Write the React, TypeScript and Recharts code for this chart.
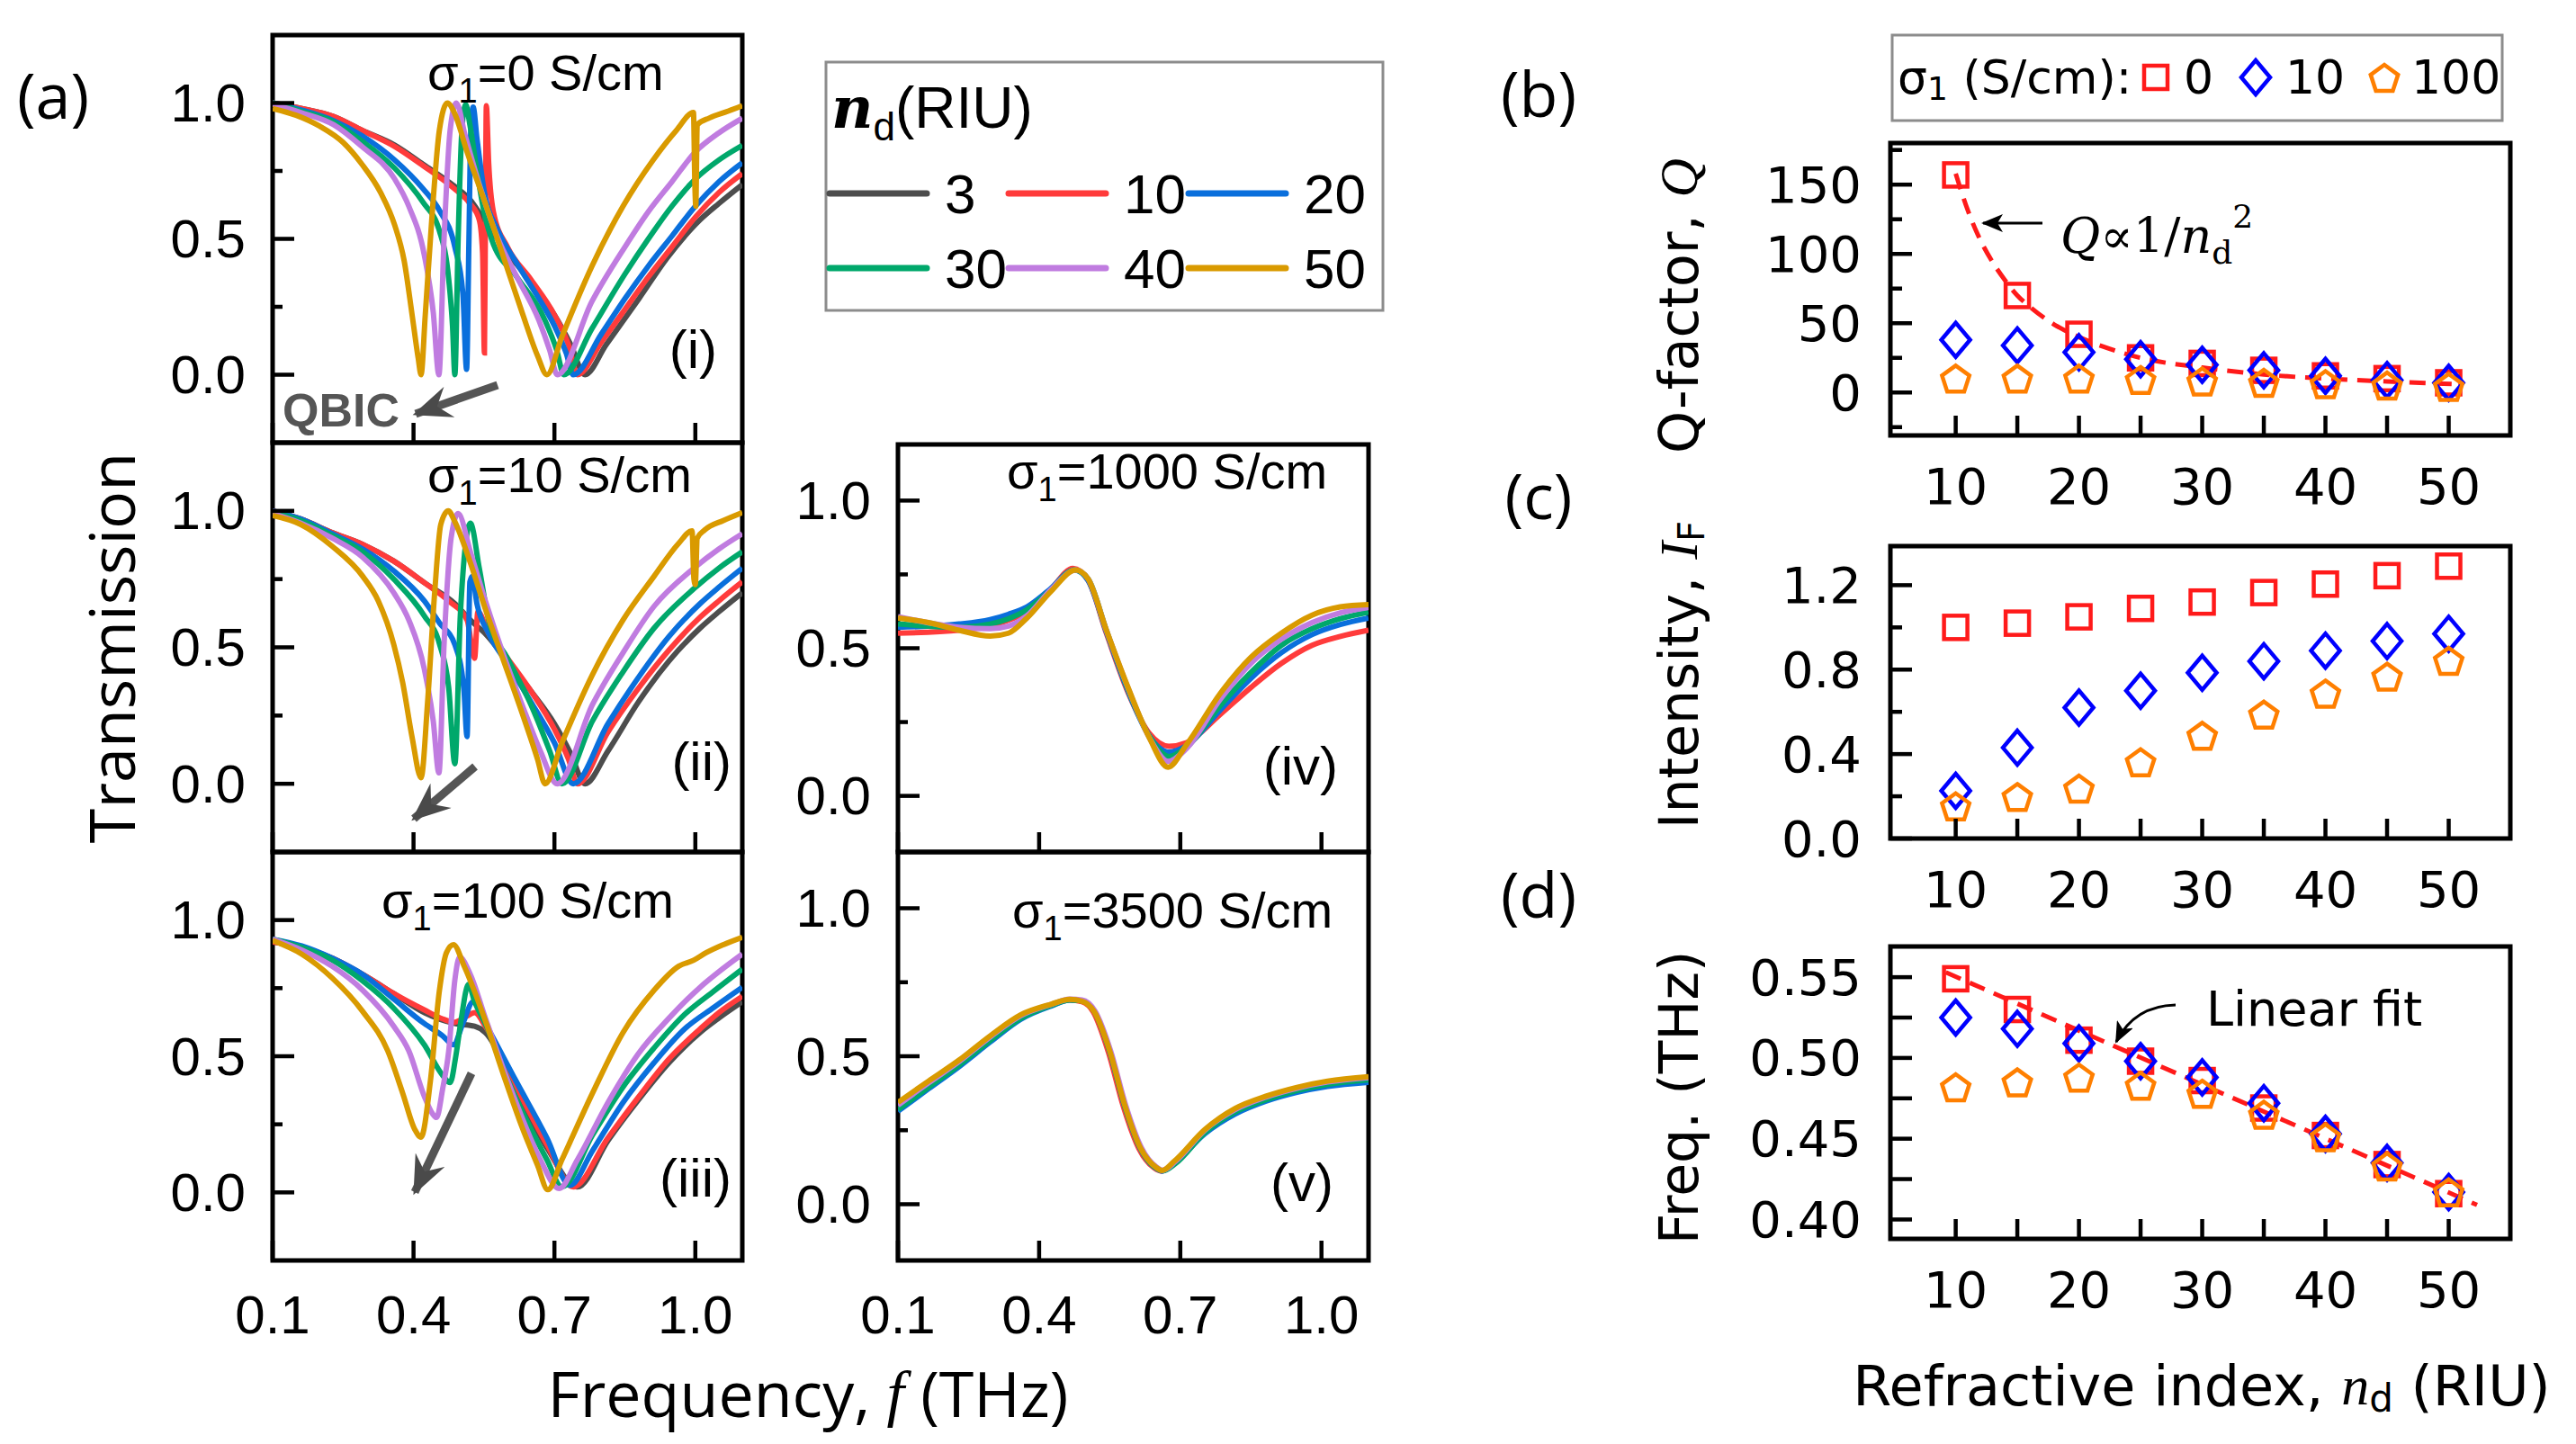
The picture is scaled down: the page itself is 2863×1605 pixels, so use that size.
import React from "react";
import { LineChart, Line, XAxis, YAxis, ReferenceArea, ComposedChart, Scatter } from "recharts";

type P = [number, number];

// ---------- (a) transmission curves, [f (THz), T] ----------
// (i) sigma1 = 0 S/cm
const i3: P[] = [[0.1, 1.0], [0.16, 0.98], [0.23, 0.95], [0.29, 0.9], [0.36, 0.845], [0.42, 0.775], [0.49, 0.69], [0.52, 0.645], [0.55, 0.57], [0.6, 0.45], [0.65, 0.34], [0.7, 0.22], [0.735, 0.11], [0.765, 0.0], [0.81, 0.11], [0.88, 0.28], [0.94, 0.43], [1.01, 0.57], [1.05, 0.63], [1.1, 0.7]];
const i10: P[] = [[0.1, 1.0], [0.16, 0.98], [0.23, 0.95], [0.29, 0.9], [0.36, 0.84], [0.42, 0.77], [0.49, 0.68], [0.52, 0.63], [0.54, 0.57], [0.547, 0.45], [0.551, 0.08], [0.553, 0.55], [0.555, 0.99], [0.56, 0.78], [0.57, 0.6], [0.6, 0.47], [0.65, 0.35], [0.7, 0.22], [0.73, 0.11], [0.749, 0.0], [0.8, 0.12], [0.85, 0.24], [0.9, 0.36], [0.95, 0.47], [1.0, 0.58], [1.05, 0.67], [1.1, 0.74]];
const i20: P[] = [[0.1, 1.0], [0.16, 0.975], [0.23, 0.935], [0.29, 0.88], [0.36, 0.79], [0.42, 0.685], [0.455, 0.605], [0.488, 0.47], [0.505, 0.3], [0.513, 0.02], [0.518, 0.5], [0.522, 0.9], [0.527, 0.985], [0.535, 0.87], [0.55, 0.68], [0.58, 0.53], [0.62, 0.41], [0.66, 0.3], [0.7, 0.18], [0.725, 0.08], [0.74, 0.0], [0.8, 0.15], [0.85, 0.28], [0.9, 0.4], [0.95, 0.51], [1.0, 0.62], [1.05, 0.71], [1.1, 0.78]];
const i30: P[] = [[0.1, 1.0], [0.16, 0.97], [0.23, 0.93], [0.29, 0.86], [0.36, 0.76], [0.42, 0.635], [0.455, 0.53], [0.475, 0.35], [0.483, 0.18], [0.488, 0.0], [0.495, 0.5], [0.503, 0.9], [0.511, 0.995], [0.52, 0.92], [0.535, 0.75], [0.55, 0.6], [0.566, 0.5], [0.62, 0.36], [0.68, 0.2], [0.705, 0.09], [0.72, 0.0], [0.78, 0.17], [0.85, 0.37], [0.9, 0.5], [0.95, 0.62], [1.0, 0.72], [1.05, 0.79], [1.1, 0.844]];
const i40: P[] = [[0.1, 0.995], [0.16, 0.965], [0.23, 0.92], [0.29, 0.84], [0.36, 0.72], [0.39, 0.62], [0.423, 0.44], [0.442, 0.23], [0.454, 0.0], [0.465, 0.5], [0.478, 0.9], [0.491, 1.0], [0.51, 0.88], [0.54, 0.7], [0.58, 0.5], [0.62, 0.36], [0.667, 0.2], [0.69, 0.09], [0.706, 0.0], [0.78, 0.27], [0.85, 0.47], [0.9, 0.6], [0.95, 0.71], [1.0, 0.82], [1.05, 0.89], [1.1, 0.944]];
const i50: P[] = [[0.1, 0.98], [0.15, 0.955], [0.2, 0.915], [0.25, 0.855], [0.29, 0.775], [0.33, 0.67], [0.36, 0.55], [0.38, 0.42], [0.397, 0.22], [0.41, 0.06], [0.416, 0.0], [0.425, 0.22], [0.44, 0.6], [0.455, 0.9], [0.472, 1.0], [0.488, 0.96], [0.514, 0.82], [0.553, 0.63], [0.592, 0.43], [0.631, 0.23], [0.664, 0.07], [0.684, 0.0], [0.716, 0.14], [0.78, 0.4], [0.846, 0.62], [0.91, 0.79], [0.96, 0.9], [0.996, 0.965], [0.999, 0.7], [1.001, 0.62], [1.004, 0.92], [1.03, 0.945], [1.07, 0.97], [1.1, 0.99]];

// (ii) sigma1 = 10 S/cm
const ii3: P[] = [[0.1, 1.0], [0.16, 0.97], [0.227, 0.92], [0.292, 0.877], [0.358, 0.816], [0.423, 0.737], [0.488, 0.66], [0.521, 0.6], [0.553, 0.55], [0.6, 0.45], [0.65, 0.34], [0.7, 0.22], [0.735, 0.11], [0.765, 0.0], [0.814, 0.12], [0.879, 0.3], [0.944, 0.45], [1.01, 0.57], [1.05, 0.63], [1.1, 0.7]];
const ii10: P[] = [[0.1, 1.0], [0.16, 0.97], [0.227, 0.92], [0.292, 0.877], [0.358, 0.816], [0.423, 0.737], [0.475, 0.67], [0.514, 0.6], [0.53, 0.46], [0.537, 0.63], [0.56, 0.55], [0.6, 0.46], [0.65, 0.34], [0.7, 0.2], [0.73, 0.09], [0.749, 0.0], [0.814, 0.19], [0.879, 0.35], [0.944, 0.49], [1.01, 0.61], [1.05, 0.67], [1.1, 0.74]];
const ii20: P[] = [[0.1, 1.0], [0.16, 0.97], [0.227, 0.916], [0.292, 0.86], [0.358, 0.78], [0.423, 0.67], [0.455, 0.59], [0.488, 0.51], [0.507, 0.35], [0.514, 0.173], [0.52, 0.74], [0.525, 0.76], [0.535, 0.66], [0.56, 0.55], [0.6, 0.44], [0.65, 0.3], [0.7, 0.15], [0.74, 0.0], [0.814, 0.22], [0.879, 0.39], [0.944, 0.54], [1.01, 0.66], [1.05, 0.72], [1.1, 0.79]];
const ii30: P[] = [[0.1, 0.995], [0.16, 0.965], [0.227, 0.91], [0.292, 0.85], [0.358, 0.75], [0.423, 0.615], [0.455, 0.514], [0.475, 0.35], [0.488, 0.073], [0.5, 0.63], [0.521, 0.955], [0.54, 0.79], [0.56, 0.6], [0.6, 0.46], [0.65, 0.29], [0.69, 0.12], [0.716, 0.0], [0.781, 0.23], [0.846, 0.41], [0.912, 0.57], [0.997, 0.715], [1.05, 0.79], [1.1, 0.85]];
const ii40: P[] = [[0.1, 0.99], [0.16, 0.955], [0.227, 0.9], [0.292, 0.83], [0.358, 0.7], [0.39, 0.6], [0.423, 0.42], [0.442, 0.23], [0.454, 0.04], [0.465, 0.51], [0.48, 0.9], [0.495, 0.99], [0.521, 0.85], [0.553, 0.67], [0.592, 0.47], [0.631, 0.29], [0.67, 0.12], [0.706, 0.0], [0.781, 0.29], [0.846, 0.48], [0.912, 0.65], [0.997, 0.79], [1.05, 0.86], [1.1, 0.916]];
const ii50: P[] = [[0.1, 0.983], [0.16, 0.95], [0.227, 0.87], [0.292, 0.76], [0.325, 0.67], [0.358, 0.51], [0.377, 0.37], [0.397, 0.17], [0.416, 0.022], [0.43, 0.3], [0.445, 0.7], [0.458, 0.95], [0.474, 1.0], [0.488, 0.96], [0.521, 0.81], [0.553, 0.64], [0.592, 0.45], [0.631, 0.26], [0.664, 0.09], [0.68, 0.0], [0.716, 0.15], [0.781, 0.4], [0.846, 0.6], [0.912, 0.76], [0.964, 0.88], [0.993, 0.927], [0.997, 0.75], [1.0, 0.73], [1.004, 0.9], [1.02, 0.93], [1.06, 0.965], [1.1, 0.994]];

// (iii) sigma1 = 100 S/cm
const iii3: P[] = [[0.1, 0.92], [0.162, 0.9], [0.227, 0.86], [0.292, 0.8], [0.358, 0.73], [0.423, 0.66], [0.488, 0.62], [0.53, 0.61], [0.553, 0.587], [0.618, 0.38], [0.684, 0.164], [0.749, 0.02], [0.814, 0.19], [0.879, 0.34], [0.944, 0.476], [1.01, 0.587], [1.05, 0.64], [1.1, 0.7]];
const iii10: P[] = [[0.1, 0.92], [0.162, 0.9], [0.227, 0.86], [0.292, 0.8], [0.358, 0.73], [0.423, 0.67], [0.462, 0.637], [0.488, 0.625], [0.514, 0.648], [0.53, 0.66], [0.553, 0.61], [0.618, 0.39], [0.684, 0.175], [0.74, 0.02], [0.814, 0.2], [0.879, 0.35], [0.944, 0.49], [1.01, 0.6], [1.05, 0.66], [1.1, 0.72]];
const iii20: P[] = [[0.1, 0.93], [0.162, 0.905], [0.227, 0.86], [0.292, 0.8], [0.358, 0.71], [0.423, 0.62], [0.462, 0.575], [0.485, 0.542], [0.505, 0.62], [0.527, 0.7], [0.553, 0.62], [0.618, 0.41], [0.684, 0.2], [0.733, 0.026], [0.781, 0.153], [0.846, 0.33], [0.912, 0.476], [0.977, 0.6], [1.04, 0.68], [1.1, 0.753]];
const iii30: P[] = [[0.1, 0.93], [0.162, 0.9], [0.227, 0.853], [0.292, 0.776], [0.358, 0.676], [0.423, 0.542], [0.462, 0.43], [0.478, 0.403], [0.49, 0.5], [0.501, 0.63], [0.517, 0.764], [0.53, 0.7], [0.553, 0.62], [0.592, 0.45], [0.631, 0.3], [0.684, 0.12], [0.716, 0.02], [0.781, 0.21], [0.846, 0.387], [0.912, 0.53], [0.977, 0.653], [1.04, 0.74], [1.1, 0.82]];
const iii40: P[] = [[0.1, 0.93], [0.162, 0.89], [0.227, 0.83], [0.292, 0.742], [0.358, 0.61], [0.39, 0.52], [0.423, 0.353], [0.44, 0.29], [0.449, 0.275], [0.462, 0.38], [0.475, 0.52], [0.488, 0.78], [0.498, 0.864], [0.521, 0.8], [0.553, 0.64], [0.592, 0.45], [0.631, 0.275], [0.67, 0.12], [0.71, 0.014], [0.749, 0.12], [0.814, 0.33], [0.879, 0.51], [0.944, 0.64], [1.01, 0.753], [1.05, 0.81], [1.1, 0.875]];
const iii50: P[] = [[0.1, 0.925], [0.162, 0.875], [0.227, 0.787], [0.292, 0.664], [0.345, 0.52], [0.377, 0.364], [0.403, 0.23], [0.416, 0.203], [0.436, 0.41], [0.455, 0.74], [0.47, 0.88], [0.485, 0.91], [0.508, 0.83], [0.553, 0.63], [0.592, 0.43], [0.631, 0.24], [0.664, 0.1], [0.686, 0.01], [0.716, 0.12], [0.781, 0.364], [0.846, 0.587], [0.912, 0.742], [0.964, 0.83], [0.997, 0.853], [1.023, 0.88], [1.06, 0.91], [1.1, 0.937]];

// (iv) sigma1 = 1000 S/cm
const iv10: P[] = [[0.1, 0.551], [0.23, 0.561], [0.296, 0.577], [0.335, 0.595], [0.374, 0.625], [0.42, 0.69], [0.472, 0.77], [0.504, 0.73], [0.543, 0.55], [0.589, 0.35], [0.635, 0.21], [0.676, 0.168], [0.713, 0.18], [0.785, 0.276], [0.85, 0.367], [0.915, 0.449], [0.98, 0.51], [1.04, 0.54], [1.1, 0.561]];
const iv20: P[] = [[0.1, 0.571], [0.23, 0.582], [0.296, 0.597], [0.335, 0.615], [0.374, 0.64], [0.42, 0.695], [0.475, 0.765], [0.504, 0.73], [0.543, 0.555], [0.589, 0.355], [0.635, 0.2], [0.676, 0.148], [0.713, 0.17], [0.785, 0.291], [0.85, 0.398], [0.915, 0.485], [0.98, 0.546], [1.04, 0.58], [1.1, 0.602]];
const iv30: P[] = [[0.1, 0.582], [0.23, 0.571], [0.296, 0.582], [0.335, 0.6], [0.374, 0.63], [0.42, 0.69], [0.475, 0.765], [0.504, 0.735], [0.543, 0.56], [0.589, 0.36], [0.635, 0.2], [0.676, 0.133], [0.713, 0.165], [0.785, 0.306], [0.85, 0.418], [0.915, 0.51], [0.98, 0.566], [1.04, 0.6], [1.1, 0.622]];
const iv40: P[] = [[0.1, 0.607], [0.23, 0.571], [0.296, 0.566], [0.335, 0.575], [0.374, 0.61], [0.426, 0.7], [0.478, 0.765], [0.504, 0.735], [0.543, 0.56], [0.589, 0.365], [0.635, 0.195], [0.674, 0.117], [0.713, 0.16], [0.785, 0.327], [0.85, 0.449], [0.915, 0.531], [0.98, 0.587], [1.04, 0.62], [1.1, 0.638]];
const iv50: P[] = [[0.1, 0.602], [0.165, 0.587], [0.23, 0.561], [0.296, 0.541], [0.335, 0.551], [0.374, 0.602], [0.426, 0.694], [0.478, 0.765], [0.504, 0.735], [0.543, 0.561], [0.589, 0.367], [0.635, 0.194], [0.674, 0.097], [0.713, 0.173], [0.785, 0.347], [0.85, 0.469], [0.915, 0.551], [0.98, 0.612], [1.04, 0.64], [1.1, 0.648]];

// (v) sigma1 = 3500 S/cm
const v10: P[] = [[0.1, 0.325], [0.165, 0.4], [0.23, 0.475], [0.296, 0.557], [0.361, 0.632], [0.426, 0.673], [0.465, 0.69], [0.491, 0.684], [0.515, 0.65], [0.547, 0.515], [0.579, 0.33], [0.612, 0.188], [0.645, 0.122], [0.659, 0.112], [0.687, 0.14], [0.752, 0.245], [0.817, 0.316], [0.882, 0.358], [0.948, 0.388], [1.013, 0.41], [1.1, 0.425]];
const v20: P[] = [[0.1, 0.314], [0.165, 0.39], [0.23, 0.465], [0.296, 0.548], [0.361, 0.625], [0.426, 0.67], [0.465, 0.69], [0.491, 0.688], [0.517, 0.652], [0.55, 0.515], [0.582, 0.33], [0.615, 0.188], [0.648, 0.122], [0.661, 0.112], [0.687, 0.138], [0.752, 0.238], [0.817, 0.305], [0.882, 0.348], [0.948, 0.378], [1.013, 0.398], [1.1, 0.412]];
const v30: P[] = [[0.1, 0.32], [0.165, 0.395], [0.23, 0.47], [0.296, 0.553], [0.361, 0.628], [0.426, 0.672], [0.465, 0.69], [0.491, 0.688], [0.517, 0.653], [0.55, 0.517], [0.582, 0.332], [0.615, 0.19], [0.648, 0.123], [0.663, 0.113], [0.69, 0.138], [0.752, 0.242], [0.817, 0.312], [0.882, 0.353], [0.948, 0.384], [1.013, 0.405], [1.1, 0.42]];
const v40: P[] = [[0.1, 0.335], [0.165, 0.41], [0.23, 0.482], [0.296, 0.565], [0.361, 0.637], [0.426, 0.675], [0.465, 0.693], [0.491, 0.69], [0.519, 0.652], [0.552, 0.518], [0.584, 0.334], [0.617, 0.192], [0.65, 0.125], [0.663, 0.115], [0.69, 0.145], [0.752, 0.25], [0.817, 0.32], [0.882, 0.362], [0.948, 0.392], [1.013, 0.413], [1.1, 0.428]];
const v50: P[] = [[0.1, 0.344], [0.165, 0.416], [0.23, 0.487], [0.296, 0.569], [0.361, 0.64], [0.426, 0.676], [0.465, 0.692], [0.491, 0.686], [0.517, 0.651], [0.55, 0.518], [0.582, 0.334], [0.615, 0.191], [0.648, 0.125], [0.661, 0.114], [0.687, 0.145], [0.752, 0.252], [0.817, 0.324], [0.882, 0.365], [0.948, 0.395], [1.013, 0.416], [1.1, 0.431]];

// ---------- (b)-(d) versus refractive index ----------
const nd = [10, 15, 20, 25, 30, 35, 40, 45, 50];
const q0 = [157, 70, 42, 25, 21, 16, 12, 10, 7];
const q10 = [38, 34, 29, 24, 20, 16, 12, 9, 7];
const q100 = [9, 9, 9, 8, 7, 6, 5, 4, 3];
const qFitN = [10, 11, 12, 13, 14, 15, 16, 18, 20, 22, 25, 30, 35, 40, 45, 50.5];
const qFitV = [158, 131, 110, 94, 81, 70, 62, 49, 40, 33, 25, 18, 13, 10, 8, 6];
const i0v = [1.0, 1.02, 1.05, 1.09, 1.12, 1.165, 1.205, 1.245, 1.29];
const i10v = [0.226, 0.43, 0.62, 0.7, 0.785, 0.84, 0.89, 0.935, 0.97];
const i100v = [0.146, 0.19, 0.23, 0.355, 0.48, 0.58, 0.68, 0.76, 0.835];
const f0 = [0.549, 0.53, 0.511, 0.498, 0.486, 0.469, 0.452, 0.434, 0.416];
const f10 = [0.525, 0.518, 0.509, 0.498, 0.488, 0.472, 0.453, 0.435, 0.417];
const f100 = [0.481, 0.484, 0.487, 0.482, 0.477, 0.464, 0.45, 0.432, 0.416];
const fFitN = [9.2, 52.3];
const fFitV = [0.553, 0.409];

const legendNd = ["3", "10", "20", "30", "40", "50"];
const COL = ["#4d4d4d", "#ff3b3b", "#0a6fdc", "#00a86b", "#c07ce0", "#d99a00"];
const RED = "#ff1a1a";
const BLUE = "#0000ff";
const ORANGE = "#ff7f00";

const SANS = "Liberation Sans";
const DJ = "DejaVu Sans";
const SERIF = "Liberation Serif";

type TickOpt = { major: number[]; labels: number[]; lenMaj: number; lenMin: number; fmt: (v: number) => string; font: string; size: number; gap: number };
const has = (arr: number[], v: number) => arr.some((a) => Math.abs(a - v) < 1e-6);

function makeTick(side: "x" | "y", o: TickOpt) {
  return (p: any) => {
    const v = Number(p.payload.value);
    const len = has(o.major, v) ? o.lenMaj : o.lenMin;
    const lab = has(o.labels, v);
    if (side === "x") {
      return (
        <g>
          <line x1={p.x} x2={p.x} y1={p.y} y2={p.y - len} stroke="#000" strokeWidth={4.5} />
          {lab && (
            <text x={p.x} y={p.y + o.gap} textAnchor="middle" dominantBaseline="central" fontFamily={o.font} fontSize={o.size} fill="#000">
              {o.fmt(v)}
            </text>
          )}
        </g>
      );
    }
    return (
      <g>
        <line x1={p.x} x2={p.x + len} y1={p.y} y2={p.y} stroke="#000" strokeWidth={4.5} />
        {lab && (
          <text x={p.x - o.gap} y={p.y} textAnchor="end" dominantBaseline="central" fontFamily={o.font} fontSize={o.size} fill="#000">
            {o.fmt(v)}
          </text>
        )}
      </g>
    );
  };
}

const toPts = (d: P[]) => d.map(([f, T]) => ({ f, T }));
const zip = (xs: number[], ys: number[]) => xs.map((n, i) => ({ n, v: ys[i] }));

function Curves({ x, y, w, h, yd, series, showX, yTicks }: { x: number; y: number; w: number; h: number; yd: [number, number]; series: P[][]; showX: boolean; yTicks: number[] }) {
  const padL = 140, padR = 12, padT = 12, padB = 110;
  const xt = [0.1, 0.4, 0.7, 1.0];
  return (
    <div style={{ position: "absolute", left: x - padL, top: y - padT }}>
      <LineChart width={w + padL + padR} height={h + padT + padB} margin={{ top: padT, right: padR, left: 0, bottom: 0 }}>
        <XAxis
          type="number" dataKey="f" domain={[0.1, 1.1]} allowDataOverflow ticks={xt} interval={0} height={padB}
          axisLine={false} tickLine={false} tickSize={0} tickMargin={0}
          tick={makeTick("x", { major: xt, labels: showX ? xt : [], lenMaj: 22, lenMin: 22, fmt: (v) => v.toFixed(1), font: SANS, size: 60, gap: 60 })}
        />
        <YAxis
          type="number" domain={yd} allowDataOverflow ticks={yTicks} interval={0} width={padL}
          axisLine={false} tickLine={false} tickSize={0} tickMargin={0}
          tick={makeTick("y", { major: [0, 0.5, 1.0], labels: [0, 0.5, 1.0], lenMaj: 24, lenMin: 11, fmt: (v) => v.toFixed(1), font: SANS, size: 60, gap: 30 })}
        />
        <ReferenceArea x1={0.1} x2={1.1} y1={yd[0]} y2={yd[1]} fill="none" stroke="#000" strokeWidth={5} ifOverflow="visible" />
        {series.map((s, k) =>
          s.length ? (
            <Line key={k} data={toPts(s)} dataKey="T" type="monotone" stroke={COL[k]} strokeWidth={6} dot={false} isAnimationActive={false} />
          ) : null
        )}
      </LineChart>
    </div>
  );
}

const sq = (c: string) => (p: any) => <rect x={p.cx - 13} y={p.cy - 13} width={26} height={26} fill="none" stroke={c} strokeWidth={4.5} />;
const dia = (c: string) => (p: any) => (
  <path d={`M${p.cx},${p.cy - 19} L${p.cx + 16},${p.cy} L${p.cx},${p.cy + 19} L${p.cx - 16},${p.cy} Z`} fill="none" stroke={c} strokeWidth={4.5} />
);
const pent = (c: string) => (p: any) => {
  const r = 16;
  const pts = [0, 1, 2, 3, 4].map((k) => {
    const a = -Math.PI / 2 + (k * 2 * Math.PI) / 5;
    return `${p.cx + r * Math.cos(a)},${p.cy + r * Math.sin(a)}`;
  });
  return <polygon points={pts.join(" ")} fill="none" stroke={c} strokeWidth={4.5} />;
};

function Dots({ y, yd, yTicks, major, labels, fmt, lenMin, sets, fit }: { y: number; yd: [number, number]; yTicks: number[]; major: number[]; labels: number[]; fmt: (v: number) => string; lenMin: number; sets: number[][]; fit: { n: number; v: number }[] }) {
  const x = 2101, w = 689, h = 325;
  const padL = 180, padR = 12, padT = 12, padB = 100;
  const xt = [10, 15, 20, 25, 30, 35, 40, 45, 50];
  const xd: [number, number] = [4.7, 55];
  const shapes = [sq(RED), dia(BLUE), pent(ORANGE)];
  return (
    <div style={{ position: "absolute", left: x - padL, top: y - padT }}>
      <ComposedChart width={w + padL + padR} height={h + padT + padB} margin={{ top: padT, right: padR, left: 0, bottom: 0 }}>
        <XAxis
          type="number" dataKey="n" domain={xd} allowDataOverflow ticks={xt} interval={0} height={padB}
          axisLine={false} tickLine={false} tickSize={0} tickMargin={0}
          tick={makeTick("x", { major: xt, labels: [10, 20, 30, 40, 50], lenMaj: 22, lenMin: 22, fmt: (v) => String(v), font: DJ, size: 56, gap: 56 })}
        />
        <YAxis
          type="number" dataKey="v" domain={yd} allowDataOverflow ticks={yTicks} interval={0} width={padL}
          axisLine={false} tickLine={false} tickSize={0} tickMargin={0}
          tick={makeTick("y", { major, labels, lenMaj: 24, lenMin, fmt, font: DJ, size: 56, gap: 32 })}
        />
        <ReferenceArea x1={xd[0]} x2={xd[1]} y1={yd[0]} y2={yd[1]} fill="none" stroke="#000" strokeWidth={5} ifOverflow="visible" />
        {sets.map((s, k) => (
          <Scatter key={k} data={zip(nd, s)} shape={shapes[k]} isAnimationActive={false} />
        ))}
        <Line data={fit} dataKey="v" type="monotone" stroke={RED} strokeWidth={5} strokeDasharray="18 11" dot={false} isAnimationActive={false} />
      </ComposedChart>
    </div>
  );
}

function Sigma({ x, y, val }: { x: number; y: number; val: string }) {
  return (
    <text x={x} y={y} fontFamily={SANS} fontSize={56} fill="#000">
      σ<tspan dy={14} fontSize={38}>1</tspan>
      <tspan dy={-14}>{`=${val} S/cm`}</tspan>
    </text>
  );
}

function Roman({ x, y, t }: { x: number; y: number; t: string }) {
  return (
    <text x={x} y={y} textAnchor="end" fontFamily={SANS} fontSize={60} fill="#000">
      {t}
    </text>
  );
}

const legendCols = [922, 1121, 1321];
const legendRows = [215, 298];

export default function App() {
  const YA = [0, 0.25, 0.5, 0.75, 1.0];
  return (
    <div style={{ position: "absolute", left: 0, top: 0, width: 2863, height: 1605, background: "#fff", overflow: "hidden" }}>
      <Curves x={303} y={39} w={522} h={453} yd={[-0.25, 1.25]} yTicks={YA} showX={false} series={[i3, i10, i20, i30, i40, i50]} />
      <Curves x={303} y={492} w={522} h={455} yd={[-0.25, 1.25]} yTicks={YA} showX={false} series={[ii3, ii10, ii20, ii30, ii40, ii50]} />
      <Curves x={303} y={947} w={522} h={454} yd={[-0.25, 1.25]} yTicks={YA} showX={true} series={[iii3, iii10, iii20, iii30, iii40, iii50]} />
      <Curves x={998} y={494} w={523} h={453} yd={[-0.19, 1.19]} yTicks={YA} showX={false} series={[[], iv10, iv20, iv30, iv40, iv50]} />
      <Curves x={998} y={947} w={523} h={454} yd={[-0.19, 1.19]} yTicks={YA} showX={true} series={[[], v10, v20, v30, v40, v50]} />

      <Dots y={159} yd={[-31, 180]} yTicks={[-25, 0, 25, 50, 75, 100, 125, 150, 175]} major={[0, 50, 100, 150]} labels={[0, 50, 100, 150]} fmt={(v) => String(v)} lenMin={13} sets={[q0, q10, q100]} fit={zip(qFitN, qFitV)} />
      <Dots y={607} yd={[0, 1.385]} yTicks={[0, 0.2, 0.4, 0.6, 0.8, 1.0, 1.2]} major={[0, 0.4, 0.8, 1.2]} labels={[0, 0.4, 0.8, 1.2]} fmt={(v) => v.toFixed(1)} lenMin={13} sets={[i0v, i10v, i100v]} fit={[]} />
      <Dots y={1052} yd={[0.388, 0.569]} yTicks={[0.4, 0.425, 0.45, 0.475, 0.5, 0.525, 0.55]} major={[0.4, 0.425, 0.45, 0.475, 0.5, 0.525, 0.55]} labels={[0.4, 0.45, 0.5, 0.55]} fmt={(v) => v.toFixed(2)} lenMin={24} sets={[f0, f10, f100]} fit={zip(fFitN, fFitV)} />

      <svg width={2863} height={1605} style={{ position: "absolute", left: 0, top: 0, pointerEvents: "none" }}>
        <defs>
          <marker id="gh" viewBox="0 0 12 10" refX={11} refY={5} markerWidth={44} markerHeight={36} markerUnits="userSpaceOnUse" orient="auto">
            <path d="M0,0 L12,5 L0,10 L4,5 Z" fill="#4a4a4a" />
          </marker>
          <marker id="bh" viewBox="0 0 12 10" refX={11} refY={5} markerWidth={24} markerHeight={20} markerUnits="userSpaceOnUse" orient="auto">
            <path d="M0,0 L12,5 L0,10 L3,5 Z" fill="#000" />
          </marker>
        </defs>

        {/* panel letters */}
        <text x={59} y={105} textAnchor="middle" dominantBaseline="central" fontFamily="Open Sans" fontSize={70}>(a)</text>
        <text x={1710} y={103} textAnchor="middle" dominantBaseline="central" fontFamily="Open Sans" fontSize={70}>(b)</text>
        <text x={1710} y={550} textAnchor="middle" dominantBaseline="central" fontFamily="Open Sans" fontSize={70}>(c)</text>
        <text x={1710} y={993} textAnchor="middle" dominantBaseline="central" fontFamily="Open Sans" fontSize={70}>(d)</text>

        {/* axis titles (a) */}
        <text transform="translate(123,720) rotate(-90)" textAnchor="middle" dominantBaseline="central" fontFamily="Open Sans" fontSize={70}>Transmission</text>
        <text x={898} y={1548} textAnchor="middle" dominantBaseline="central" fontFamily="Open Sans" fontSize={70}>
          Frequency, <tspan fontFamily={SERIF} fontStyle="italic">f</tspan> (THz)
        </text>

        {/* axis titles (b)-(d) */}
        <text transform="translate(1866,340) rotate(-90)" textAnchor="middle" dominantBaseline="central" fontFamily={DJ} fontSize={60}>
          Q-factor, <tspan fontFamily={SERIF} fontStyle="italic">Q</tspan>
        </text>
        <text transform="translate(1866,750) rotate(-90)" textAnchor="middle" dominantBaseline="central" fontFamily={DJ} fontSize={60}>
          Intensity, <tspan fontFamily={SERIF} fontStyle="italic">I</tspan>
          <tspan dy={14} fontSize={40}>F</tspan>
        </text>
        <text transform="translate(1866,1220) rotate(-90)" textAnchor="middle" dominantBaseline="central" fontFamily={DJ} fontSize={60}>Freq. (THz)</text>
        <text x={2447} y={1540} textAnchor="middle" dominantBaseline="central" fontFamily={DJ} fontSize={62}>
          Refractive index, <tspan fontFamily={SERIF} fontStyle="italic">n</tspan>
          <tspan dy={14} fontSize={42}>d</tspan>
          <tspan dy={-14}> (RIU)</tspan>
        </text>

        {/* sigma labels and roman numerals */}
        <Sigma x={475} y={100} val="0" />
        <Sigma x={475} y={547} val="10" />
        <Sigma x={424} y={1020} val="100" />
        <Sigma x={1119} y={543} val="1000" />
        <Sigma x={1125} y={1031} val="3500" />
        <Roman x={797} y={409} t="(i)" />
        <Roman x={813} y={867} t="(ii)" />
        <Roman x={813} y={1330} t="(iii)" />
        <Roman x={1487} y={872} t="(iv)" />
        <Roman x={1482} y={1335} t="(v)" />

        {/* QBIC arrows */}
        <text x={314} y={474} fontFamily={SANS} fontWeight="bold" fontSize={52} fill="#555">QBIC</text>
        <line x1={553} y1={428} x2={462} y2={460} stroke="#555" strokeWidth={9} markerEnd="url(#gh)" />
        <line x1={528} y1={852} x2={460} y2={910} stroke="#555" strokeWidth={9} markerEnd="url(#gh)" />
        <line x1={524} y1={1193} x2={461} y2={1325} stroke="#555" strokeWidth={9} markerEnd="url(#gh)" />

        {/* legend (a) */}
        <rect x={918} y={69} width={619} height={276} fill="#fff" stroke="#8c8c8c" strokeWidth={3} />
        <text x={924} y={142} fontFamily={SANS} fontSize={64}>
          <tspan fontFamily="DejaVu Serif" fontWeight="bold" fontStyle="italic">n</tspan>
          <tspan dy={14} fontSize={44}>d</tspan>
          <tspan dy={-14}>(RIU)</tspan>
        </text>
        {legendNd.map((t, k) => {
          const cx = legendCols[k % 3];
          const cy = legendRows[Math.floor(k / 3)];
          return (
            <g key={t}>
              <line x1={cx} x2={cx + 108} y1={cy} y2={cy} stroke={COL[k]} strokeWidth={7} strokeLinecap="round" />
              <text x={cx + 128} y={cy} dominantBaseline="central" fontFamily={SANS} fontSize={62}>{t}</text>
            </g>
          );
        })}

        {/* legend (b) */}
        <rect x={2103} y={39} width={678} height={95} fill="#fff" stroke="#8c8c8c" strokeWidth={3} />
        <text x={2109} y={86} dominantBaseline="central" fontFamily={DJ} fontSize={52}>
          σ<tspan dy={12} fontSize={36}>1</tspan>
          <tspan dy={-12}> (S/cm):</tspan>
        </text>
        {sq(RED)({ cx: 2396, cy: 86 })}
        <text x={2427} y={86} dominantBaseline="central" fontFamily={DJ} fontSize={52}>0</text>
        {dia(BLUE)({ cx: 2507, cy: 86 })}
        <text x={2540} y={86} dominantBaseline="central" fontFamily={DJ} fontSize={52}>10</text>
        {pent(ORANGE)({ cx: 2650, cy: 88 })}
        <text x={2680} y={86} dominantBaseline="central" fontFamily={DJ} fontSize={52}>100</text>

        {/* annotations (b), (d) */}
        <line x1={2270} y1={248} x2={2204} y2={248} stroke="#000" strokeWidth={3} markerEnd="url(#bh)" />
        <text x={2290} y={281} fontFamily="DejaVu Serif" fontSize={54}>
          <tspan fontStyle="italic">Q</tspan>∝1/<tspan fontStyle="italic">n</tspan>
          <tspan dy={12} fontSize={36}>d</tspan>
          <tspan dy={-40} fontSize={36}>2</tspan>
        </text>
        <text x={2452} y={1140} fontFamily={DJ} fontSize={54}>Linear fit</text>
        <path d="M2418,1117 Q2372,1118 2352,1158" fill="none" stroke="#000" strokeWidth={3} markerEnd="url(#bh)" />
      </svg>
    </div>
  );
}
